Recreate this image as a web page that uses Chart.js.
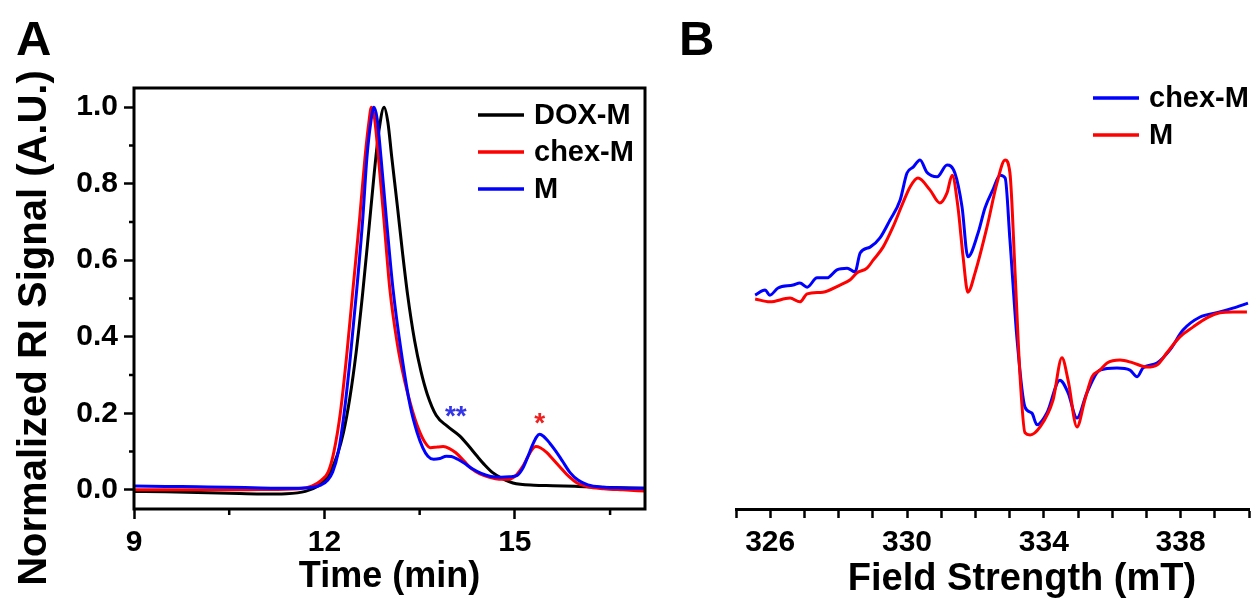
<!DOCTYPE html>
<html>
<head>
<meta charset="utf-8">
<script src="https://cdn.jsdelivr.net/npm/chart.js@4.4.1/dist/chart.umd.min.js"></script>
<style>
  html, body { margin: 0; padding: 0; background: #fff; }
  body { width: 1256px; height: 601px; position: relative; overflow: hidden; }
  #chartA { position: absolute; left: 0; top: 0; }
  #chartB { position: absolute; left: 650px; top: 0; }
</style>
</head>
<body>
<canvas id="chartA" width="650" height="601"></canvas>
<canvas id="chartB" width="606" height="601"></canvas>
<script>
// ---------- panel A : GPC traces ----------
const timeDox = [9.0, 9.5, 10.0, 10.5, 11.0, 11.4, 11.7, 11.9, 12.0, 12.1, 12.2, 12.3, 12.4, 12.5, 12.6, 12.7, 12.78, 12.86, 12.94, 13.0, 13.06, 13.15, 13.23, 13.31, 13.42, 13.52, 13.62, 13.76, 13.93, 14.13, 14.27, 14.4, 14.52, 14.65, 14.8, 14.97, 15.3, 15.6, 16.0, 16.5, 17.05];
const dox = [-0.004, -0.005, -0.007, -0.009, -0.011, -0.010, -0.004, 0.01, 0.025, 0.05, 0.09, 0.15, 0.24, 0.36, 0.51, 0.68, 0.82, 0.94, 1.0, 0.96, 0.87, 0.74, 0.62, 0.51, 0.39, 0.31, 0.25, 0.195, 0.167, 0.141, 0.115, 0.089, 0.066, 0.045, 0.03, 0.018, 0.012, 0.011, 0.009, 0.006, 0.004];

const timeChex = [9.0, 9.5, 10.0, 10.5, 11.0, 11.6, 11.8, 11.95, 12.06, 12.15, 12.25, 12.35, 12.45, 12.55, 12.64, 12.7, 12.74, 12.79, 12.85, 12.94, 13.03, 13.15, 13.27, 13.38, 13.48, 13.58, 13.67, 13.78, 13.87, 13.97, 14.07, 14.2, 14.32, 14.45, 14.6, 14.75, 14.9, 15.03, 15.12, 15.2, 15.27, 15.33, 15.4, 15.5, 15.6, 15.71, 15.85, 15.98, 16.15, 16.4, 16.7, 17.05];
const chex = [0.0, 0.0, 0.0, 0.0, 0.001, 0.003, 0.01, 0.025, 0.047, 0.10, 0.20, 0.35, 0.525, 0.70, 0.87, 0.96, 1.0, 0.97, 0.87, 0.70, 0.525, 0.38, 0.28, 0.21, 0.16, 0.125, 0.11, 0.112, 0.113, 0.108, 0.097, 0.075, 0.055, 0.042, 0.033, 0.028, 0.028, 0.04, 0.06, 0.085, 0.105, 0.113, 0.11, 0.098, 0.08, 0.06, 0.035, 0.018, 0.008, 0.003, 0.0, -0.003];

const timeM = [9.0, 9.5, 10.0, 10.5, 11.0, 11.5, 11.8, 11.95, 12.05, 12.13, 12.22, 12.31, 12.41, 12.51, 12.6, 12.67, 12.73, 12.78, 12.83, 12.89, 12.98, 13.08, 13.21, 13.35, 13.46, 13.55, 13.63, 13.72, 13.82, 13.92, 14.0, 14.1, 14.2, 14.33, 14.47, 14.62, 14.78, 14.92, 15.03, 15.12, 15.2, 15.28, 15.34, 15.39, 15.45, 15.55, 15.65, 15.75, 15.87, 16.0, 16.15, 16.4, 16.7, 17.05];
const mSignal = [0.01, 0.009, 0.008, 0.007, 0.005, 0.004, 0.006, 0.013, 0.025, 0.047, 0.10, 0.20, 0.35, 0.525, 0.70, 0.87, 0.96, 1.0, 0.97, 0.87, 0.70, 0.525, 0.36, 0.22, 0.15, 0.11, 0.088, 0.08, 0.082, 0.088, 0.087, 0.08, 0.07, 0.055, 0.043, 0.035, 0.033, 0.034, 0.037, 0.055, 0.085, 0.118, 0.138, 0.145, 0.14, 0.122, 0.1, 0.075, 0.045, 0.025, 0.013, 0.007, 0.005, 0.004];

const timeTicks = [9, 12, 15];
const timeMinor = [10.5, 13.5, 16.5];
const signalTicks = [0, 0.2, 0.4, 0.6, 0.8, 1.0];
const signalMinor = [0.1, 0.3, 0.5, 0.7, 0.9];

// ---------- panel B : EPR spectra ----------
const fieldChex = [325.56, 325.85, 325.99, 326.23, 326.67, 326.87, 327.08, 327.37, 327.66, 327.95, 328.25, 328.48, 328.63, 328.92, 329.21, 329.50, 329.80, 330.00, 330.18, 330.38, 330.58, 330.88, 331.17, 331.40, 331.61, 331.78, 332.08, 332.28, 332.51, 332.72, 332.87, 333.01, 333.22, 333.45, 333.65, 333.80, 334.09, 334.47, 334.71, 334.97, 335.26, 335.64, 336.14, 336.52, 336.73, 336.90, 337.31, 337.69, 338.07, 338.57, 339.06, 339.53, 339.97];
const eprChex = [0.508, 0.520, 0.508, 0.525, 0.532, 0.537, 0.527, 0.549, 0.549, 0.568, 0.572, 0.563, 0.608, 0.622, 0.644, 0.686, 0.734, 0.798, 0.812, 0.829, 0.800, 0.789, 0.817, 0.798, 0.717, 0.599, 0.656, 0.715, 0.758, 0.793, 0.786, 0.639, 0.401, 0.242, 0.228, 0.200, 0.228, 0.306, 0.276, 0.216, 0.276, 0.330, 0.335, 0.330, 0.314, 0.335, 0.347, 0.378, 0.425, 0.456, 0.466, 0.477, 0.489];

const fieldM = [325.56, 325.99, 326.58, 326.87, 327.08, 327.54, 328.04, 328.33, 328.54, 328.83, 329.01, 329.30, 329.59, 329.88, 330.09, 330.32, 330.67, 330.96, 331.17, 331.32, 331.49, 331.64, 331.78, 331.99, 332.34, 332.63, 332.87, 333.01, 333.16, 333.30, 333.45, 333.60, 333.89, 334.27, 334.53, 334.71, 334.97, 335.20, 335.41, 335.64, 335.85, 336.23, 336.61, 337.02, 337.31, 337.60, 337.98, 338.36, 338.77, 339.15, 339.53, 339.94];
const eprM = [0.499, 0.492, 0.501, 0.492, 0.511, 0.515, 0.532, 0.544, 0.561, 0.572, 0.591, 0.622, 0.670, 0.727, 0.765, 0.786, 0.758, 0.727, 0.751, 0.793, 0.717, 0.599, 0.515, 0.561, 0.670, 0.774, 0.829, 0.798, 0.561, 0.323, 0.181, 0.176, 0.195, 0.259, 0.359, 0.306, 0.195, 0.259, 0.314, 0.330, 0.347, 0.354, 0.347, 0.337, 0.342, 0.371, 0.409, 0.432, 0.454, 0.466, 0.468, 0.468];

const fieldTicks = [325, 326, 327, 328, 329, 330, 331, 332, 333, 334, 335, 336, 337, 338, 339, 340];
const fieldLabels = [326, 330, 334, 338];

const pairs = (xs, ys) => xs.map((x, i) => ({ x: x, y: ys[i] }));
const FONT = "'Liberation Sans', Arial, sans-serif";

Chart.defaults.font.family = FONT;
Chart.defaults.font.weight = 'bold';
Chart.defaults.color = '#000';

// frame, minor ticks, in-plot legend, star notes, titles and panel letter
const extras = {
  id: 'extras',
  afterDraw(chart, args, o) {
    const { ctx, chartArea: a, scales } = chart;
    ctx.save();
    ctx.strokeStyle = '#000';
    ctx.fillStyle = '#000';
    if (o.frame) {
      ctx.lineWidth = 3;
      ctx.strokeRect(a.left, a.top, a.right - a.left, a.bottom - a.top);
    }
    ctx.lineWidth = 2.5;
    ctx.beginPath();
    (o.minorX || []).forEach(v => {
      const x = scales.x.getPixelForValue(v);
      ctx.moveTo(x, a.bottom); ctx.lineTo(x, a.bottom + 6);
    });
    (o.minorY || []).forEach(v => {
      const y = scales.y.getPixelForValue(v);
      ctx.moveTo(a.left - 5, y); ctx.lineTo(a.left, y);
    });
    ctx.stroke();

    // legend
    const lg = o.legend;
    ctx.font = 'bold ' + lg.size + 'px ' + FONT;
    ctx.textBaseline = 'middle';
    ctx.textAlign = 'left';
    chart.data.datasets.forEach((ds, i) => {
      const y = lg.y + i * lg.gap;
      ctx.strokeStyle = ds.borderColor;
      ctx.lineWidth = 3.5;
      ctx.beginPath(); ctx.moveTo(lg.x, y); ctx.lineTo(lg.x + lg.len, y); ctx.stroke();
      ctx.fillStyle = '#000';
      ctx.fillText(ds.label, lg.x + lg.len + 10, y + 1);
    });

    // star notes
    (o.notes || []).forEach(n => {
      ctx.font = 'bold 28px ' + FONT;
      ctx.fillStyle = n.color;
      ctx.textAlign = 'center';
      ctx.textBaseline = 'alphabetic';
      ctx.fillText(n.text, scales.x.getPixelForValue(n.x), scales.y.getPixelForValue(n.y));
    });

    // axis titles placed off-centre like the original
    (o.titles || []).forEach(t => {
      ctx.save();
      ctx.font = 'bold ' + t.size + 'px ' + FONT;
      ctx.fillStyle = '#000';
      ctx.textAlign = 'center';
      ctx.textBaseline = 'alphabetic';
      ctx.translate(t.x, t.y);
      if (t.vertical) ctx.rotate(-Math.PI / 2);
      ctx.fillText(t.text, 0, 0);
      ctx.restore();
    });

    // panel letter
    ctx.font = 'bold 49px ' + FONT;
    ctx.fillStyle = '#000';
    ctx.textAlign = 'left';
    ctx.textBaseline = 'alphabetic';
    ctx.fillText(o.letter.text, o.letter.x, 55);
    ctx.restore();
  }
};

const lineStyle = { borderWidth: 3, pointRadius: 0, fill: false, cubicInterpolationMode: 'monotone' };
const tickFont = { size: 30, weight: 'bold' };

new Chart(document.getElementById('chartA'), {
  type: 'line',
  data: {
    datasets: [
      Object.assign({ label: 'DOX-M', data: pairs(timeDox, dox), borderColor: '#000000', order: 2 }, lineStyle),
      Object.assign({ label: 'chex-M', data: pairs(timeChex, chex), borderColor: '#ff0000', order: 1 }, lineStyle),
      Object.assign({ label: 'M', data: pairs(timeM, mSignal), borderColor: '#0000ff', order: 0 }, lineStyle)
    ]
  },
  options: {
    responsive: false,
    animation: false,
    events: [],
    layout: { padding: { top: 88, right: 5, left: 0, bottom: 0 } },
    plugins: {
      legend: { display: false },
      tooltip: { enabled: false },
      extras: {
        frame: true,
        minorX: timeMinor,
        minorY: signalMinor,
        legend: { x: 478, y: 115, gap: 37, len: 46, size: 29 },
        notes: [
          { text: '**', x: 14.07, y: 0.17, color: '#3535e8' },
          { text: '*', x: 15.39, y: 0.151, color: '#ee2020' }
        ],
        titles: [{ text: 'Normalized RI Signal (A.U.)', x: 46, y: 328, size: 40, vertical: true }],
        letter: { text: 'A', x: 16 }
      }
    },
    scales: {
      x: {
        type: 'linear',
        min: 9, max: 17.05,
        afterBuildTicks: s => { s.ticks = timeTicks.map(v => ({ value: v })); },
        afterFit: s => { s.height = 92; },
        border: { display: false },
        grid: { drawOnChartArea: false, tickLength: 10, tickWidth: 2.5, tickColor: '#000' },
        ticks: { autoSkip: false, maxRotation: 0, padding: 6, font: tickFont },
        title: { display: true, text: 'Time (min)', padding: { top: 0, bottom: 2 }, font: { size: 36, weight: 'bold' } }
      },
      y: {
        min: -0.05, max: 1.05,
        afterBuildTicks: s => { s.ticks = signalTicks.map(v => ({ value: v })); },
        afterFit: s => { s.width = 134; },
        border: { display: false },
        grid: { drawOnChartArea: false, tickLength: 10, tickWidth: 2.5, tickColor: '#000' },
        ticks: { padding: 6, font: tickFont, callback: v => Number(v).toFixed(1) }
      }
    }
  },
  plugins: [extras]
});

new Chart(document.getElementById('chartB'), {
  type: 'line',
  data: {
    datasets: [
      Object.assign({ label: 'chex-M', data: pairs(fieldChex, eprChex), borderColor: '#0000ff', order: 1 }, lineStyle),
      Object.assign({ label: 'M', data: pairs(fieldM, eprM), borderColor: '#ff0000', order: 0 }, lineStyle)
    ]
  },
  options: {
    responsive: false,
    animation: false,
    events: [],
    layout: { padding: { top: 88, right: 7, left: 86, bottom: 0 } },
    plugins: {
      legend: { display: false },
      tooltip: { enabled: false },
      extras: {
        frame: false,
        legend: { x: 443, y: 98, gap: 37, len: 46, size: 29 },
        titles: [{ text: 'Field Strength (mT)', x: 372, y: 590, size: 38, vertical: false }],
        letter: { text: 'B', x: 29 }
      }
    },
    scales: {
      x: {
        type: 'linear',
        min: 325, max: 340,
        afterBuildTicks: s => { s.ticks = fieldTicks.map(v => ({ value: v })); },
        afterFit: s => { s.height = 92; },
        border: { display: true, width: 3, color: '#000' },
        grid: { drawOnChartArea: false, tickLength: 9, tickWidth: 2.5, tickColor: '#000' },
        ticks: {
          autoSkip: false, maxRotation: 0, padding: 7, font: tickFont,
          callback: v => fieldLabels.includes(v) ? String(v) : ''
        }
      },
      y: { display: false, min: 0, max: 1 }
    }
  },
  plugins: [extras]
});
</script>
</body>
</html>
